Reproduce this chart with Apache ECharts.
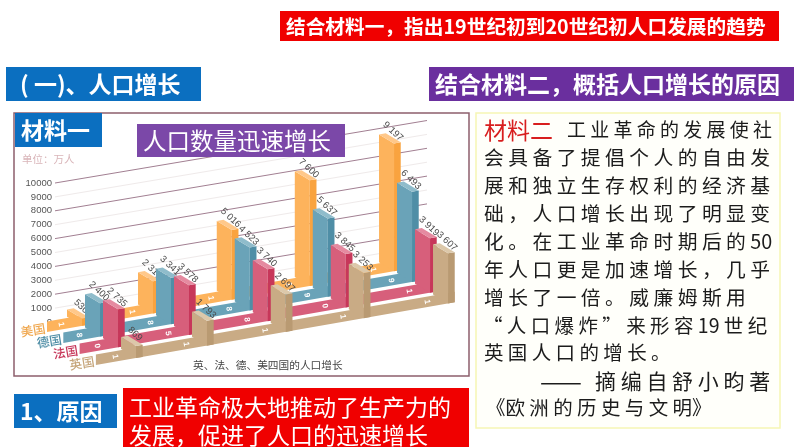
<!DOCTYPE html>
<html>
<head>
<meta charset="utf-8">
<title>人口增长</title>
<script src="https://cdn.jsdelivr.net/npm/echarts@6/dist/echarts.min.js"></script>
<style>
html, body { margin: 0; padding: 0; background: #fff; }
#main { width: 794px; height: 447px; }
</style>
</head>
<body>
<div id="main"></div>
<script>
// data
const years = ["1801", "1851", "1881", "1901", "1911"];
const countries = ["美国", "德国", "法国", "英国"];
const usPop = [530, 2319, 5016, 7600, 9197];
const dePop = [2400, 3341, 4523, 5637, 6493];
const frPop = [2735, 3578, 3740, 3845, 3919];
const ukPop = [869, 1793, 2697, 3253, 3607];
const gridValues = [1000, 2000, 3000, 4000, 5000, 6000, 7000, 8000, 9000, 10000];

const material2 = [
  "会 具 备 了 提 倡 个 人 的 自 由 发",
  "展 和 独 立 生 存 权 利 的 经 济 基",
  "础 ， 人 口 增 长 出 现 了 明 显 变",
  "化 。 在 工 业 革 命 时 期 后 的 50",
  "年 人 口 更 是 加 速 增 长 ， 几 乎",
  "增 长 了 一 倍 。 威 廉 姆 斯 用"
];

// oblique projection of the picture, in px
const slots = [0, 0.91, 1.92, 2.92, 4]; // group position along the x axis
const slope = 0.175;
const depthX = 18;
const rowStep = 13.9;
const floorAt0 = 340.2;
const faceW = 15, faceDrop = 9, sideW = 6.7, sideRise = 1.2;
const palette = [
  { front: "#fdb35c", side: "#f9a33f", top: "#ffc88a", text: "#f0a850" },
  { front: "#6aa3b8", side: "#4f8ea6", top: "#8fbccb", text: "#4f8ea6" },
  { front: "#d75f7b", side: "#c7375a", top: "#e58aa0", text: "#c7375a" },
  { front: "#c9ab85", side: "#b99a72", top: "#dcc8aa", text: "#c6a57a" }
];
const FONT = '"Noto Sans CJK SC", sans-serif';

function fmt(v) {
  let s = String(v);
  return s.length > 3 ? s.slice(0, -3) + " " + s.slice(-3) : s;
}

function poly(points, fill) {
  return { type: "polygon", shape: { points: points }, style: { fill: fill } };
}

function renderGridLine(params, api) {
  let a = api.coord([api.value(0), api.value(1)]);
  let b = api.coord([api.value(2), api.value(1)]);
  let even = api.value(1) % 2000 === 0;
  return {
    type: "line",
    shape: { x1: a[0], y1: a[1], x2: b[0], y2: a[1] - (b[0] - a[0]) * 0.168 },
    style: { stroke: even ? "#a27f92" : "#efeaea", lineWidth: 1 }
  };
}

function makeRender(c) {
  const col = palette[c];
  return function (params, api) {
    let p = api.coord([api.value(0), api.value(1)]);
    let zero = api.coord([api.value(0), 0]);
    let fx = zero[0] + depthX * c + faceW;
    let floorY = floorAt0 + rowStep * c - slope * fx;
    let topY = floorY - (zero[1] - p[1]);
    let children = [];

    if (params.dataIndex === 0) {
      let last = api.coord([slots[slots.length - 1], 0]);
      let sx = 47 + 16.3 * c;
      let ex = last[0] + depthX * c + faceW + sideW;
      let ly = floorAt0 + rowStep * c - slope * sx;
      let ry = floorAt0 + rowStep * c - slope * ex;
      children.push(poly([[sx, ly - 10.5], [ex, ry - 10.5], [ex, ry], [sx, ly]], col.front));
      children.push({
        type: "text", x: sx - 14, y: ly - 2, rotation: 0.16,
        style: { text: countries[c], fill: col.text, fontSize: 12.5, fontWeight: 500, fontFamily: FONT, align: "center", verticalAlign: "middle" }
      });
    }

    // floor digit, one of the year per country row
    let dx = fx - faceW - 6;
    children.push({
      type: "text", x: dx, y: floorAt0 + rowStep * c - slope * dx - 5.2, rotation: -1.42,
      style: { text: years[params.dataIndex][c], fill: "#fff", fontSize: 8, fontWeight: "bold", fontFamily: "Liberation Sans", align: "center", verticalAlign: "middle" }
    });

    children.push(poly([[fx - faceW, floorY - faceDrop], [fx, floorY], [fx, topY], [fx - faceW, topY - faceDrop]], col.front));
    children.push(poly([[fx, floorY], [fx + sideW, floorY - sideRise], [fx + sideW, topY - sideRise], [fx, topY]], col.side));
    children.push(poly([[fx - faceW, topY - faceDrop], [fx - faceW + sideW, topY - faceDrop - sideRise], [fx + sideW, topY - sideRise], [fx, topY]], col.top));
    children.push({
      type: "text", x: fx - 1, y: topY - 12, rotation: -0.75,
      style: { text: fmt(api.value(1)), fill: "#4a4a4a", fontSize: 9.5, fontFamily: '"Liberation Sans Narrow", "Liberation Sans"', align: "center", verticalAlign: "middle" }
    });
    return { type: "group", children: children };
  };
}

function box(x, y, w, h, fill, stroke, z) {
  return {
    type: "rect", z: z === undefined ? 50 : z,
    shape: { x: x, y: y, width: w, height: h },
    style: { fill: fill, stroke: stroke || null, lineWidth: stroke ? 1.5 : 0 }
  };
}

function label(text, x, y, size, color, weight) {
  return {
    type: "text", z: 60, x: x, y: y,
    style: { text: text, fill: color, fontSize: size, fontWeight: weight || "normal", fontFamily: FONT, verticalAlign: "middle" }
  };
}

let graphics = [
  box(280, 11, 499, 30, "#f00000"),
  label("结合材料一，指出19世纪初到20世纪初人口发展的趋势", 286, 27, 19.7, "#fff", "bold"),
  box(6, 67, 195, 34, "#0b6fc0"),
  label("( 一)、人口增长", 20, 84, 23, "#fff", "bold"),
  box(429, 67, 365, 34, "#6a2f9e"),
  label("结合材料二，概括人口增长的原因", 435, 84, 23, "#fff", "bold"),

  box(14, 113, 455, 263, "#fff", "#8d5f6c", 0),
  box(15, 113, 87, 34, "#0b6fc0"),
  label("材料一", 21, 130, 23, "#fff", "bold"),
  box(137, 124, 208, 33, "#7b48a8"),
  label("人口数量迅速增长", 143, 141, 23.5, "#fff"),
  label("单位：万人", 22, 159, 10.5, "#d9b5b9"),
  label("英、法、德、美四国的人口增长", 193, 365, 10.7, "#444"),

  box(476, 113, 304, 315, "#fffffa", "#f6f6b4", 0),
  label("材料二", 484, 130, 23, "#d81e1e"),
  label("工 业 革 命 的 发 展 使 社", 567, 130, 19, "#1c1c1c"),
  label("“ 人 口 爆 炸 ” 来 形 容 19 世 纪", 483, 326, 19.5, "#1c1c1c"),
  label("英 国 人 口 的 增 长 。", 484, 353, 19.5, "#1c1c1c"),
  label("——", 540, 381, 25, "#1c1c1c"),
  label("摘 编 自 舒 小 昀 著", 595, 381, 21, "#1c1c1c"),
  label("《欧 洲 的 历 史 与 文 明》", 486, 408, 19.5, "#1c1c1c"),

  box(14, 394, 103, 34, "#0b6fc0"),
  label("1、原因", 20, 411, 23, "#fff", "bold"),
  box(123, 388, 346, 59, "#f00000"),
  label("工业革命极大地推动了生产力的", 129, 407, 23, "#fff"),
  label("发展，促进了人口的迅速增长", 129, 435, 23, "#fff")
];
for (let i = 0; i < material2.length; i++) {
  graphics.push(label(material2[i], 484, 157.5 + i * 28, 19.8, "#1c1c1c"));
}

let pops = [usPop, dePop, frPop, ukPop];
let series = [{
  type: "custom",
  z: 2,
  silent: true,
  renderItem: renderGridLine,
  data: gridValues.map(function (v) { return [-0.154, v, 4.615]; }),
  encode: { x: [0, 2], y: 1 }
}];
for (let c = 0; c < pops.length; c++) {
  series.push({
    type: "custom",
    name: countries[c],
    z: 3 + c,
    silent: true,
    renderItem: makeRender(c),
    data: pops[c].map(function (v, i) { return [slots[i], v]; }),
    encode: { x: 0, y: 1 }
  });
}

let myChart = echarts.init(document.getElementById("main"));
myChart.setOption({
  animation: false,
  backgroundColor: "#fff",
  graphic: graphics,
  grid: { left: 55, top: 183, width: 372, height: 139 },
  xAxis: { type: "value", min: -0.154, max: 4.615, show: false },
  yAxis: {
    type: "value",
    min: 0,
    max: 10000,
    interval: 1000,
    axisLine: { show: false },
    axisTick: { show: false },
    splitLine: { show: false },
    axisLabel: {
      color: "#555",
      fontSize: 9.5,
      fontFamily: "Liberation Sans",
      margin: 3,
      formatter: function (v) { return String(v); }
    }
  },
  series: series
});
</script>
</body>
</html>
